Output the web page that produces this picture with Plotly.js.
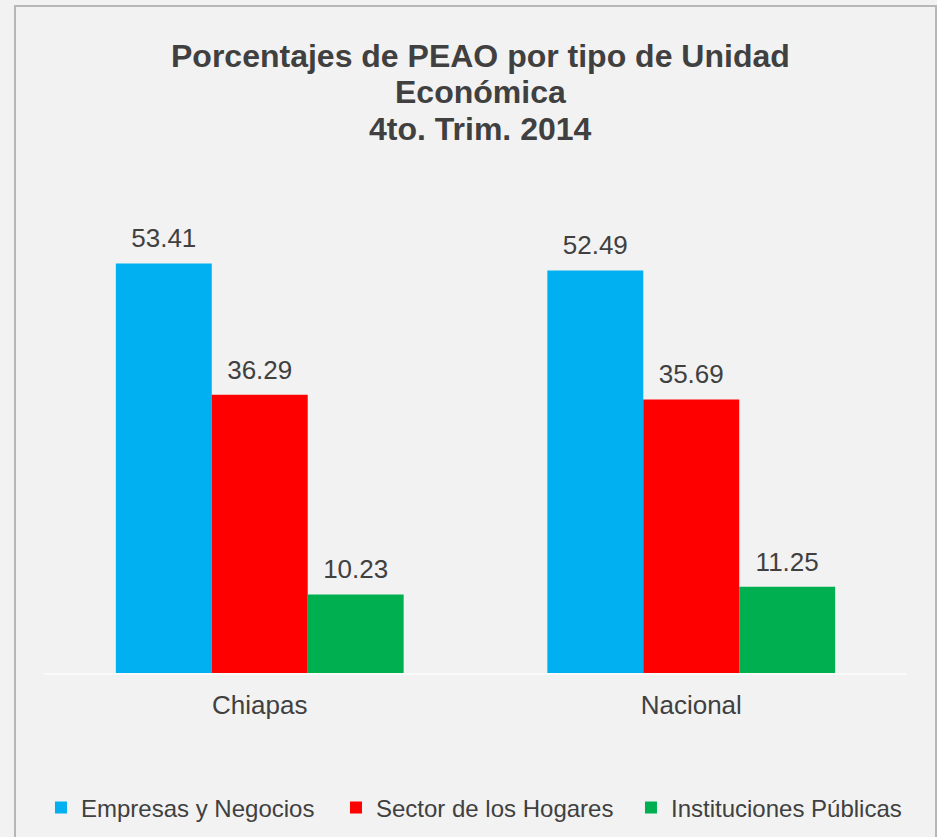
<!DOCTYPE html>
<html>
<head>
<meta charset="utf-8">
<script src="https://cdn.plot.ly/plotly-3.0.1.min.js"></script>
<style>
  html, body { margin: 0; padding: 0; background: #f2f2f2; width: 937px; height: 837px; overflow: hidden; }
  #frame { position: absolute; left: 14px; top: 5px; width: 923px; height: 900px; border: 2px solid #b7b7b7; box-sizing: border-box; }
  #chart { position: absolute; left: 0; top: 0; width: 937px; height: 837px; }
</style>
</head>
<body>
<div id="frame"></div>
<div id="chart"></div>
<script>
const categories = ["Chiapas", "Nacional"];
const seriesNames = ["Empresas y Negocios", "Sector de los Hogares", "Instituciones Públicas"];
const empresas = [53.41, 52.49];
const hogares = [36.29, 35.69];
const instituciones = [10.23, 11.25];
const titleLines = ["Porcentajes de PEAO por tipo de Unidad", "Económica", "4to. Trim. 2014"];

const colors = ["#00B0F0", "#FF0000", "#00B050"];
const seriesValues = [empresas, hogares, instituciones];
const FONT = "Liberation Sans, Arial, sans-serif";
const TXT = "#404040";

const traces = [];
seriesValues.forEach((vals, i) => {
  traces.push({
    type: "bar", x: categories, y: vals, name: seriesNames[i],
    marker: { color: colors[i] }, offsetgroup: "g" + i, alignmentgroup: "a",
    hoverinfo: "skip"
  });
});
seriesValues.forEach((vals, i) => {
  traces.push({
    type: "scatter", mode: "markers+text", x: categories, y: vals,
    text: vals.map(v => v.toFixed(2)), textposition: "top center",
    textfont: { family: FONT, size: 26, color: TXT },
    marker: { size: 14, opacity: 0 }, showlegend: false,
    offsetgroup: "g" + i, alignmentgroup: "a", cliponaxis: false, hoverinfo: "skip"
  });
});

const titleY = [1.341, 1.263, 1.183];
const annotations = titleLines.map((t, k) => ({
  text: "<b>" + t + "</b>", xref: "paper", yref: "paper", x: 0.506, y: titleY[k],
  xanchor: "center", yanchor: "middle", showarrow: false,
  font: { family: FONT, size: 32, color: TXT }
}));

const layout = {
  width: 937, height: 837,
  margin: { l: 44, r: 30, t: 213, b: 164, pad: 0, autoexpand: false },
  paper_bgcolor: "rgba(0,0,0,0)", plot_bgcolor: "rgba(0,0,0,0)",
  font: { family: FONT, color: TXT },
  barmode: "group", scattermode: "group", bargap: 0.333, bargroupgap: 0,
  hovermode: false,
  xaxis: {
    type: "category", showline: true, linecolor: "#fafafa", linewidth: 2,
    showgrid: false, zeroline: false, ticks: "", ticklabelstandoff: 8,
    tickfont: { family: FONT, size: 26, color: TXT }, fixedrange: true
  },
  yaxis: { range: [0, 60], visible: false, showgrid: false, zeroline: false, fixedrange: true },
  showlegend: true,
  legend: {
    orientation: "h", x: -0.0035, xanchor: "left", y: -0.293, yanchor: "middle",
    font: { family: FONT, size: 24, color: TXT }, bgcolor: "rgba(0,0,0,0)",
    entrywidth: 250, entrywidthmode: "pixels", traceorder: "normal"
  },
  annotations: annotations
};

Plotly.newPlot("chart", traces, layout, { displayModeBar: false, staticPlot: true });
</script>
</body>
</html>
